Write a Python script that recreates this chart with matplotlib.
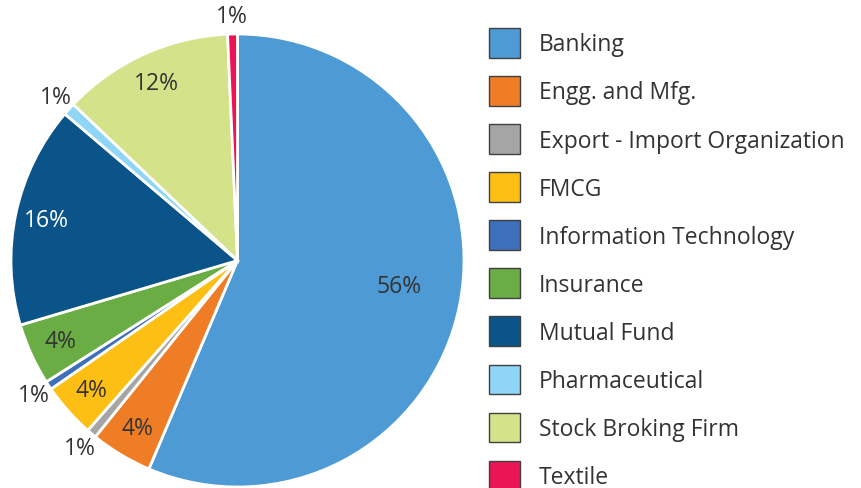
import matplotlib
matplotlib.use("Agg")
import matplotlib.pyplot as plt
import numpy as np

plt.rcParams['font.family'] = ['Open Sans', 'DejaVu Sans']

categories = ["Banking", "Engg. and Mfg.", "Export - Import Organization", "FMCG",
              "Information Technology", "Insurance", "Mutual Fund", "Pharmaceutical",
              "Stock Broking Firm", "Textile"]
shares = [56.4, 4.4, 0.7, 3.9, 0.6, 4.4, 15.8, 0.9, 12.2, 0.7]
colors = ["#4D9AD4", "#EE7D26", "#A5A5A5", "#FDBF14", "#3E6FBA",
          "#6AAD45", "#0A5489", "#8FD5F5", "#D4E28A", "#EB1556"]
label_colors = ["#333333", "#333333", "#333333", "#333333", "#333333",
                "#333333", "#FFFFFF", "#333333", "#333333", "#333333"]

W, H = 861, 489
fig = plt.figure(figsize=(W / 100, H / 100), dpi=100)
cx, cy, R = 237.5, 261.5, 226.5
ax = fig.add_axes([(cx - R) / W, (H - cy - R) / H, 2 * R / W, 2 * R / H])

wedges, _ = ax.pie(shares, colors=colors, startangle=90, counterclock=False,
                   radius=1.0, wedgeprops=dict(edgecolor="white", linewidth=2))
ax.set_xlim(-1, 1)
ax.set_ylim(-1, 1)
ax.set_aspect("equal")
ax.axis("off")

fs = 16.5
total = sum(shares)
for w, v, lc in zip(wedges, shares, label_colors):
    pct = 100 * v / total
    mid = np.deg2rad((w.theta1 + w.theta2) / 2)
    if pct > 50:
        r = 0.72
        mid += np.deg2rad(2.5)
    elif pct > 2:
        r = 0.86
    else:
        r = 1.08
    ax.text(r * np.cos(mid), r * np.sin(mid), "%.0f%%" % pct, ha="center", va="center",
            fontsize=fs, color=lc, clip_on=False)

fig.legend(wedges, categories, loc="upper left",
           bbox_to_anchor=(489 / W, (H - 29) / H), frameon=False,
           fontsize=fs, handlelength=1.34, handleheight=1.62, labelspacing=0.80,
           handletextpad=0.84, borderpad=0, borderaxespad=0,
           labelcolor="#333333")
leg = fig.legends[0]
for p in leg.get_patches():
    p.set_edgecolor("#404040")
    p.set_linewidth(1.0)

fig.savefig("out.png", dpi=100)
